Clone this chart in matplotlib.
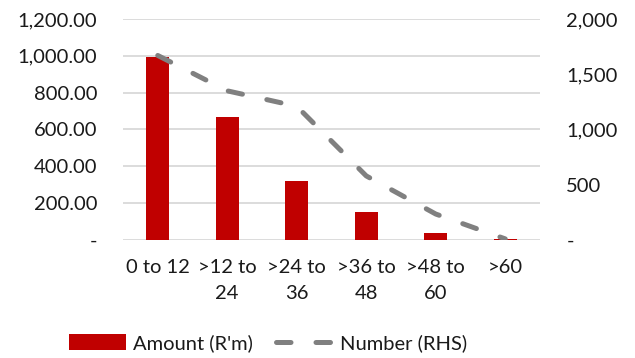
import matplotlib
matplotlib.use("Agg")
import matplotlib.pyplot as plt
from matplotlib.ticker import FuncFormatter, MultipleLocator

plt.rcParams['font.family'] = ['Lato', 'DejaVu Sans']

categories = ["0 to 12", ">12 to\n24", ">24 to\n36", ">36 to\n48", ">48 to\n60", ">60"]
amount_rm = [995, 667, 320, 150, 38, 5]
number_rhs = [1670, 1350, 1210, 580, 235, 10]

RED = "#c00000"
GREY = "#808080"
GRID = "#d9d9d9"
TEXT = "#1a1a1a"
FS = 14.5

fig = plt.figure(figsize=(6.35, 3.58), dpi=100)
ax = fig.add_axes([123 / 635, 1 - 240 / 358, (540 - 123) / 635, (240 - 19) / 358])
ax2 = ax.twinx()

x = list(range(len(categories)))
bars = ax.bar(x, amount_rm, width=0.33, color=RED, zorder=2, label="Amount (R'm)")
line, = ax2.plot(x, number_rhs, color=GREY, lw=3.6, solid_capstyle="round",
                 dash_capstyle="round", dashes=(2.9, 5.0), label="Number (RHS)", zorder=3)

ax.set_xlim(-0.5, len(categories) - 0.5)
ax.set_ylim(0, 1200)
ax2.set_ylim(0, 2000)
ax.yaxis.set_major_locator(MultipleLocator(200))
ax2.yaxis.set_major_locator(MultipleLocator(500))


def left_fmt(v, _):
    return "-" if v == 0 else f"{v:,.2f}"


def right_fmt(v, _):
    return "-" if v == 0 else f"{v:,.0f}"


ax.yaxis.set_major_formatter(FuncFormatter(left_fmt))
ax2.yaxis.set_major_formatter(FuncFormatter(right_fmt))

ax.set_xticks(x)
ax.set_xticklabels(categories, linespacing=1.6)
ax.grid(axis="y", color=GRID, lw=1.3, zorder=0)
ax.set_axisbelow(True)

for a in (ax, ax2):
    for s in a.spines.values():
        s.set_visible(False)
    a.tick_params(length=0, labelsize=FS, colors=TEXT)
ax.tick_params(axis="y", pad=18.5)
ax2.tick_params(axis="y", pad=19)
ax.tick_params(axis="x", pad=14)
ax.patch.set_visible(False)
ax2.set_zorder(ax.get_zorder() + 1)
ax2.patch.set_visible(False)

fig.legend([bars, line], ["Amount (R'm)", "Number (RHS)"], loc="center left",
           bbox_to_anchor=(65 / 635, 1 - 343 / 358), ncol=2, frameon=False,
           fontsize=FS, handlelength=2.85, handleheight=0.85, columnspacing=1.1,
           handletextpad=0.35, labelcolor=TEXT, borderpad=0.2, borderaxespad=0)

fig.savefig("out.png", dpi=100)
